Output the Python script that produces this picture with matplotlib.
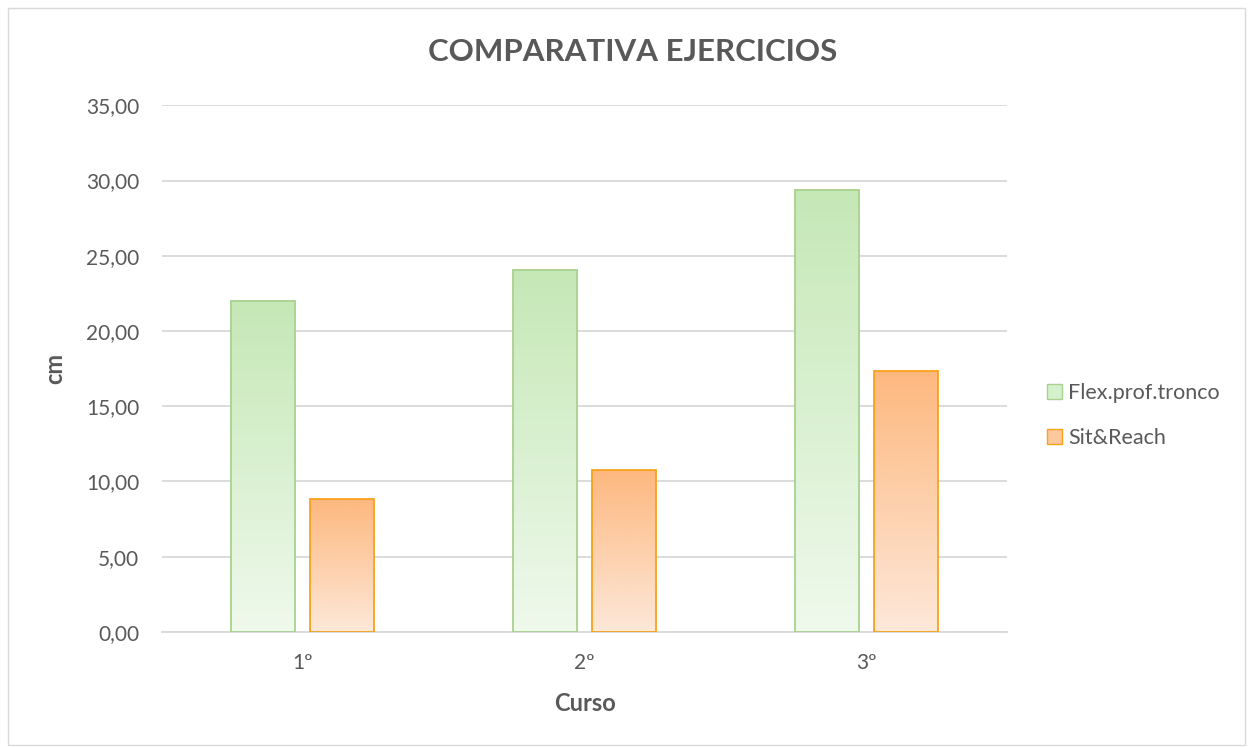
import numpy as np
import matplotlib.pyplot as plt
from matplotlib.colors import LinearSegmentedColormap
from matplotlib.patches import Rectangle, Patch

plt.rcParams['font.family'] = ['Lato', 'DejaVu Sans']

cursos = ["1º", "2º", "3º"]
flex = [22.0, 24.05, 29.38]
sit = [8.82, 10.75, 17.33]
series = ["Flex.prof.tronco", "Sit&Reach"]

fig = plt.figure(figsize=(12.53, 7.47), dpi=100)
ax = fig.add_axes([0.129, 0.154, 0.675, 0.705])

fig.patches.append(Rectangle((0.006, 0.003), 0.988, 0.986, transform=fig.transFigure,
                             fill=False, edgecolor="#d9d9d9", lw=1))

x = np.arange(len(cursos))
w = 0.226
off = 0.141

styles = [
    ("#c5e8b6", "#eff9ec", "#a9d18e"),
    ("#fdb87f", "#fde8d9", "#f7a21b"),
]
grad = np.linspace(0, 1, 256).reshape(-1, 1)
for vals, sgn, (top, bot, edge) in zip([flex, sit], [-1, 1], styles):
    cmap = LinearSegmentedColormap.from_list("g", [bot, top])
    bars = ax.bar(x + sgn * off, vals, w, color="none", edgecolor=edge, lw=1.3, zorder=3)
    for b in bars:
        x0, y0 = b.get_x(), b.get_y()
        im = ax.imshow(grad, cmap=cmap, aspect="auto", origin="lower",
                       extent=[x0, x0 + b.get_width(), y0, y0 + b.get_height()], zorder=2)
        im.set_clip_path(b)

ax.set_xlim(-0.5, 2.5)
ax.set_ylim(0, 35)
ax.set_yticks(np.arange(0, 36, 5))
ax.set_yticklabels([f"{v:.2f}".replace(".", ",") for v in np.arange(0, 36, 5)])
ax.set_xticks(x)
ax.set_xticklabels(cursos)
ax.grid(axis="y", color="#d9d9d9", lw=1.3, zorder=0)
ax.set_axisbelow(True)
for s in ["top", "right", "left"]:
    ax.spines[s].set_visible(False)
ax.spines["bottom"].set_color("#d9d9d9")
ax.spines["bottom"].set_linewidth(1.3)
ax.tick_params(axis="both", length=0, labelsize=15, colors="#595959", pad=16)
ax.tick_params(axis="x", pad=15)

ax.set_xlabel("Curso", fontsize=17, fontweight="bold", color="#595959", labelpad=14)
ax.set_ylabel("cm", fontsize=17, fontweight="bold", color="#595959", labelpad=14)
fig.text(0.505, 0.93, "COMPARATIVA EJERCICIOS", ha="center", va="center",
         fontsize=22.5, fontweight="bold", color="#595959")

handles = [Patch(facecolor="#d6efcc", edgecolor="#a9d18e", label=series[0]),
           Patch(facecolor="#fdc89c", edgecolor="#f7a21b", label=series[1])]
leg = fig.legend(handles=handles, loc="center left", bbox_to_anchor=(0.82, 0.444),
                 frameon=False, fontsize=15.5, labelcolor="#595959",
                 handlelength=0.7, handleheight=0.7, handletextpad=0.3, labelspacing=1.15)

fig.savefig("out.png", dpi=100)
